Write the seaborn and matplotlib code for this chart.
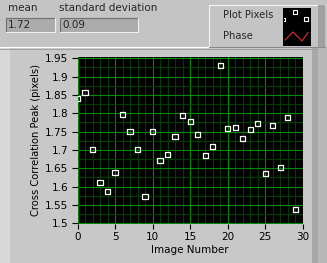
import matplotlib
matplotlib.use("Agg")
import matplotlib.pyplot as plt
import numpy as np
import pandas as pd
import seaborn as sns
from matplotlib.patches import Rectangle
from matplotlib.lines import Line2D
from matplotlib.ticker import MultipleLocator, FuncFormatter

# ---- data ----
image_number = list(range(30))
peak = [1.841, 1.857, 1.702, 1.612, 1.587, 1.639, 1.797, 1.751, 1.702, 1.574,
        1.751, 1.672, 1.688, 1.737, 1.795, 1.778, 1.743, 1.685, 1.710, 1.931,
        1.759, 1.762, 1.732, 1.756, 1.773, 1.636, 1.767, 1.653, 1.789, 1.538]
mean_text = "1.72"
std_text = "0.09"
x_label = "Image Number"
y_label = "Cross Correlation Peak (pixels)"
legend_labels = ["Plot Pixels", "Phase"]

df = pd.DataFrame({"Image Number": image_number, "Peak": peak})

sns.set_style("dark")
plt.rcParams["font.family"] = ["DejaVu Sans"]

W, H = 327, 263
BG = "#c4c4c4"
fig = plt.figure(figsize=(W / 100, H / 100), dpi=100, facecolor=BG)

def fx(px):
    return px / W

def fy(py):
    return 1 - py / H

def frect(x0, y0, x1, y1, **kw):
    r = Rectangle((fx(x0), fy(y1)), fx(x1) - fx(x0), fy(y0) - fy(y1),
                  transform=fig.transFigure, **kw)
    fig.add_artist(r)
    return r

def fline(xs, ys, **kw):
    l = Line2D([fx(v) for v in xs], [fy(v) for v in ys], transform=fig.transFigure, **kw)
    fig.add_artist(l)
    return l

# graph panel bezel
frect(0, 47, 316, 263, facecolor="#c8c8c8", edgecolor="none", zorder=0)
frect(0, 47, 10, 263, facecolor="#d8d8d8", edgecolor="none", zorder=0)
frect(312, 47, 327, 263, facecolor="#a8a8a8", edgecolor="none", zorder=0)
frect(318, 47, 327, 263, facecolor="#b8b8b8", edgecolor="none", zorder=0)
fline([0, 316], [47.5, 47.5], color="#ffffff", lw=0.8, zorder=1)
fline([0, 316], [48.5, 48.5], color="#9a9a9a", lw=0.6, zorder=1)

# ---- main axes ----
ax = fig.add_axes([fx(77.5), fy(224), fx(302.7) - fx(77.5), fy(57) - fy(224)])
ax.set_facecolor("black")
sns.scatterplot(data=df, x="Image Number", y="Peak", ax=ax, marker="s", s=14,
                fc="none", ec="white", linewidth=0.9, zorder=5, legend=False)

ax.set_xlim(0, 30)
ax.set_ylim(1.498, 1.9535)
ax.xaxis.set_major_locator(MultipleLocator(5))
ax.xaxis.set_minor_locator(MultipleLocator(1))
ax.yaxis.set_major_locator(MultipleLocator(0.05))
ax.yaxis.set_minor_locator(MultipleLocator(0.025))
ax.yaxis.set_major_formatter(FuncFormatter(lambda v, p: f"{v:g}"))
ax.xaxis.set_major_formatter(FuncFormatter(lambda v, p: f"{v:g}"))
ax.grid(which="major", color="#008a00", lw=0.8)
ax.grid(which="minor", color="#003c00", lw=0.8)
ax.set_axisbelow(True)
ax.tick_params(which="major", axis="y", length=4.3, width=0.8, color="black",
               pad=2.2, labelsize=7.5, left=True, labelcolor="black")
ax.tick_params(which="major", axis="x", length=3.8, width=0.8, color="black",
               pad=2.2, labelsize=7.5, bottom=True, labelcolor="black")
ax.tick_params(which="minor", length=0)
for s in ax.spines.values():
    s.set_visible(False)
ax.set_xlabel(x_label, fontsize=7.5, color="black", labelpad=2)
ax.set_ylabel(y_label, fontsize=7.2, color="black", labelpad=3)

# ---- numeric indicators ----
fig.text(fx(8), fy(8), "mean", fontsize=7.5, va="center", ha="left")
fig.text(fx(59), fy(8), "standard deviation", fontsize=7.5, va="center", ha="left")
for (x0, x1, txt) in [(6, 55, mean_text), (60, 138, std_text)]:
    frect(x0, 18, x1, 32, facecolor="#ababab", edgecolor="none", zorder=2)
    fline([x0, x1], [18.3, 18.3], color="#707070", lw=0.8, zorder=3)
    fline([x0 + 0.3, x0 + 0.3], [18, 32], color="#707070", lw=0.8, zorder=3)
    fline([x0, x1], [31.7, 31.7], color="#f0f0f0", lw=0.8, zorder=3)
    fline([x1 - 0.3, x1 - 0.3], [18, 32], color="#f0f0f0", lw=0.8, zorder=3)
    fig.text(fx(x0 + 2), fy(25.5), txt, fontsize=7.5, va="center", ha="left", zorder=4)

# ---- legend ----
frect(209, 5, 325, 47, facecolor="#c4c4c4", edgecolor="none", zorder=2)
fline([209, 325], [5.3, 5.3], color="#f4f4f4", lw=0.8, zorder=3)
fline([209.3, 209.3], [5, 47], color="#f4f4f4", lw=0.8, zorder=3)
frect(318, 5, 325, 47, facecolor="#a0a0a0", edgecolor="none", zorder=3)
fline([209, 325], [46.7, 46.7], color="#8a8a8a", lw=0.8, zorder=3)
fig.text(fx(223), fy(15.5), legend_labels[0], fontsize=7.2, va="center", ha="left", zorder=4)
fig.text(fx(223), fy(36), legend_labels[1], fontsize=7.2, va="center", ha="left", zorder=4)
frect(283, 8, 311, 45.5, facecolor="black", edgecolor="none", zorder=4)
mk = Line2D([fx(295), fx(306)], [fy(12), fy(19)], transform=fig.transFigure,
            ls="none", marker="s", ms=2.8, mfc="none", mec="white", mew=0.8, zorder=5)
fig.add_artist(mk)
fline([284, 285], [18, 18], color="white", lw=0.8, zorder=5)
fline([284, 285], [20.5, 20.5], color="white", lw=0.8, zorder=5)
fline([285.3, 285.3], [18, 20.5], color="white", lw=0.8, zorder=5)
fline([285, 293, 302, 308], [40, 32, 41, 32.5], color="#e03030", lw=0.8, zorder=5)

fig.savefig("out.png", dpi=100, facecolor=BG)
